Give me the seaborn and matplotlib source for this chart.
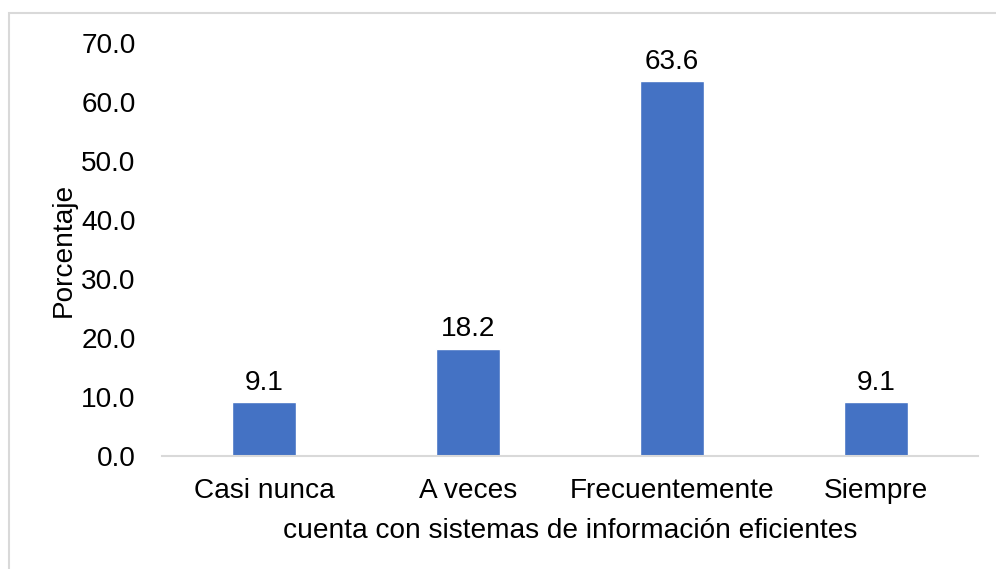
import matplotlib
matplotlib.use("Agg")
import matplotlib.pyplot as plt
import seaborn as sns
import pandas as pd
from matplotlib.patches import Rectangle

categorias = ["Casi nunca", "A veces", "Frecuentemente", "Siempre"]
porcentajes = [9.1, 18.2, 63.6, 9.1]
ticks_y = [0, 10, 20, 30, 40, 50, 60, 70]

sns.set_theme(style="white")
plt.rcParams["font.family"] = ["Liberation Sans", "DejaVu Sans"]

FS = 20.2

df = pd.DataFrame({"categoria": categorias, "porcentaje": porcentajes})

fig = plt.figure(figsize=(9.96, 5.69), dpi=100)
W, H = 996, 569
ax = fig.add_axes([162 / W, (H - 456) / H, (978 - 162) / W, (456 - 43) / H])

sns.barplot(data=df, x="categoria", y="porcentaje", color="#4472C4",
            saturation=1, width=0.31, ax=ax)

for cont in ax.containers:
    ax.bar_label(cont, labels=[f"{v:.1f}" for v in porcentajes],
                 padding=4.5, fontsize=FS, color="#000000")

ax.set_ylim(0, 70)
ax.set_yticks(ticks_y)
ax.set_yticklabels([f"{t:.1f}" for t in ticks_y])
ax.set_xlim(-0.5, len(categorias) - 0.5)

ax.tick_params(axis="y", length=0, pad=19, labelsize=FS, labelcolor="#000000")
ax.tick_params(axis="x", length=0, pad=16, labelsize=FS, labelcolor="#000000")

ax.set_ylabel("Porcentaje", fontsize=FS, color="#000000", labelpad=3)
ax.set_xlabel("cuenta con sistemas de información eficientes", fontsize=FS,
              color="#000000", labelpad=10)

for s in ["top", "right", "left"]:
    ax.spines[s].set_visible(False)
ax.spines["bottom"].set_color("#D9D9D9")
ax.spines["bottom"].set_linewidth(1.5)
ax.grid(False)

# light frame around the chart area
fig.patches.append(Rectangle((9 / W, -0.1), 1.2, (H - 13) / H + 0.1,
                             transform=fig.transFigure, fill=False,
                             edgecolor="#D9D9D9", linewidth=1.5))

fig.savefig("out.png", dpi=100, facecolor="white")
